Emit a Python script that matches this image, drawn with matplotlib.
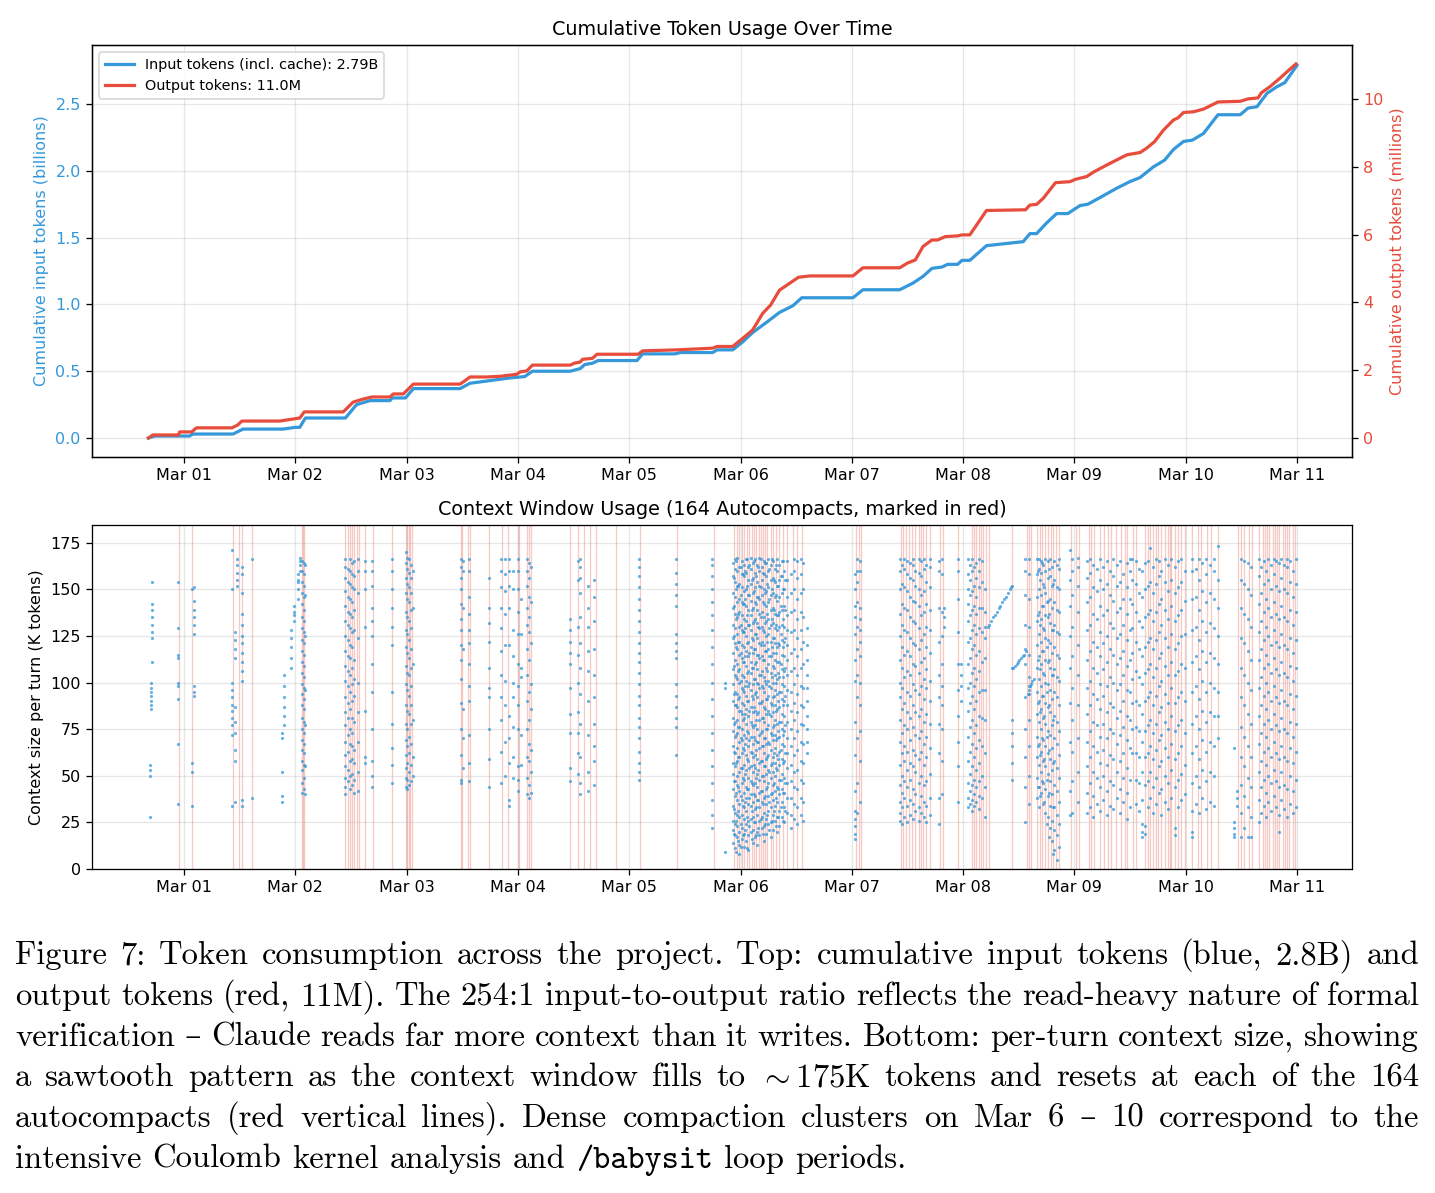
import numpy as np
import matplotlib
matplotlib.use("Agg")
import matplotlib.pyplot as plt
import matplotlib.dates as mdates
from datetime import datetime

plt.rcParams["mathtext.fontset"] = "cm"

BLUE = "#3498db"
RED = "#e74c3c"

# ---------------- top panel: cumulative tokens (time = days since Mar 01 00:00) ----------------
input_t = [-0.32, -0.26, 0.05, 0.08, 0.44, 0.53, 0.89, 1.00, 1.04, 1.09, 1.45, 1.55, 1.67, 1.85,
           1.87, 1.99, 2.06, 2.48, 2.57, 2.75, 2.93, 3.06, 3.13, 3.47, 3.56, 3.60, 3.67, 3.72,
           4.07, 4.12, 4.41, 4.46, 4.75, 4.79, 4.93, 5.02, 5.11, 5.24, 5.35, 5.47, 5.55, 6.01,
           6.10, 6.43, 6.55, 6.64, 6.72, 6.81, 6.86, 6.95, 6.99, 7.06, 7.21, 7.54, 7.60, 7.66,
           7.75, 7.84, 7.94, 8.05, 8.12, 8.23, 8.38, 8.50, 8.59, 8.71, 8.81, 8.89, 8.98, 9.06,
           9.16, 9.29, 9.49, 9.56, 9.64, 9.73, 9.82, 9.89, 10.00]
input_billions = [0.0, 0.015, 0.015, 0.03, 0.03, 0.067, 0.067, 0.08, 0.08, 0.15, 0.15, 0.25, 0.28,
                  0.28, 0.30, 0.30, 0.37, 0.37, 0.41, 0.43, 0.45, 0.46, 0.50, 0.50, 0.52, 0.55,
                  0.56, 0.58, 0.58, 0.63, 0.63, 0.64, 0.64, 0.66, 0.66, 0.72, 0.79, 0.87, 0.94,
                  0.99, 1.05, 1.05, 1.11, 1.11, 1.16, 1.21, 1.27, 1.28, 1.30, 1.30, 1.33, 1.33,
                  1.44, 1.47, 1.53, 1.53, 1.61, 1.68, 1.68, 1.74, 1.75, 1.80, 1.87, 1.92, 1.95,
                  2.03, 2.08, 2.16, 2.22, 2.23, 2.28, 2.42, 2.42, 2.47, 2.48, 2.58, 2.63, 2.66, 2.79]

output_t = [-0.32, -0.28, -0.05, -0.04, 0.07, 0.11, 0.43, 0.48, 0.52, 0.86, 0.98, 1.04, 1.08,
            1.43, 1.52, 1.61, 1.69, 1.85, 1.88, 1.97, 2.06, 2.48, 2.52, 2.57, 2.72, 2.84, 2.99,
            3.02, 3.08, 3.13, 3.47, 3.51, 3.56, 3.58, 3.67, 3.71, 4.08, 4.12, 4.43, 4.75, 4.79,
            4.93, 5.02, 5.11, 5.20, 5.27, 5.35, 5.44, 5.52, 5.62, 6.01, 6.10, 6.43, 6.50, 6.57,
            6.64, 6.72, 6.77, 6.84, 6.95, 6.99, 7.06, 7.21, 7.56, 7.60, 7.66, 7.72, 7.83, 7.96,
            8.01, 8.11, 8.17, 8.29, 8.47, 8.59, 8.65, 8.72, 8.80, 8.89, 8.93, 8.98, 9.07, 9.16,
            9.29, 9.49, 9.56, 9.65, 9.68, 9.76, 9.85, 9.91, 9.99]
output_millions = [0.0, 0.09, 0.09, 0.18, 0.18, 0.30, 0.30, 0.38, 0.50, 0.50, 0.56, 0.59, 0.77,
                   0.77, 1.06, 1.15, 1.21, 1.21, 1.30, 1.30, 1.59, 1.59, 1.68, 1.80, 1.80, 1.82,
                   1.88, 1.95, 1.98, 2.15, 2.15, 2.21, 2.24, 2.32, 2.35, 2.47, 2.47, 2.57, 2.60,
                   2.65, 2.70, 2.70, 2.94, 3.19, 3.68, 3.92, 4.36, 4.56, 4.74, 4.78, 4.78, 5.02,
                   5.02, 5.16, 5.25, 5.65, 5.84, 5.84, 5.94, 5.96, 5.99, 5.99, 6.71, 6.73, 6.87,
                   6.89, 7.07, 7.53, 7.56, 7.63, 7.71, 7.84, 8.05, 8.35, 8.42, 8.55, 8.74, 9.08,
                   9.38, 9.44, 9.60, 9.62, 9.70, 9.91, 9.93, 10.00, 10.03, 10.18, 10.37, 10.62,
                   10.80, 11.03]

# ---------------- autocompact times (days since Mar 01) ----------------
compact_feb28 = [-0.045]
compact_mar01 = [0.075, 0.44, 0.49, 0.52, 0.61]
compact_mar02 = [1.06, 1.07, 1.08, 1.45, 1.47, 1.49, 1.51, 1.53, 1.55, 1.57, 1.63, 1.70, 1.87, 1.99]
compact_mar03 = [2.00, 2.02, 2.03, 2.05, 2.49, 2.50, 2.55, 2.57, 2.74, 2.86, 2.91]
compact_mar04 = [3.00, 3.01, 3.08, 3.10, 3.12, 3.47, 3.54, 3.59, 3.65, 3.70, 3.88]
compact_mar05 = [4.10, 4.43, 4.76, 4.94, 4.97, 4.99]
compact_mar06 = [5.01, 5.03, 5.06, 5.08, 5.10, 5.12, 5.14, 5.17, 5.18, 5.20, 5.22, 5.24, 5.27,
                 5.29, 5.32, 5.35, 5.38, 5.42, 5.47, 5.51, 5.55]
compact_mar07 = [6.04, 6.06, 6.08, 6.44, 6.46, 6.49, 6.51, 6.54, 6.57, 6.60, 6.62, 6.64, 6.67,
                 6.70, 6.79, 6.82, 6.95]
compact_mar08 = [7.08, 7.10, 7.12, 7.14, 7.16, 7.18, 7.21, 7.23, 7.44, 7.57, 7.59, 7.61, 7.66,
                 7.69, 7.71, 7.74, 7.76, 7.79, 7.81, 7.83, 7.86, 7.97]
compact_mar09 = [8.01, 8.04, 8.13, 8.15, 8.18, 8.23, 8.27, 8.30, 8.33, 8.37, 8.42, 8.45, 8.47,
                 8.53, 8.55, 8.63, 8.66, 8.68, 8.71, 8.73, 8.75, 8.78, 8.81, 8.84, 8.86, 8.87,
                 8.90, 8.93, 8.96, 8.99]
compact_mar10 = [9.06, 9.11, 9.14, 9.19, 9.23, 9.29, 9.47, 9.50, 9.52, 9.57, 9.60, 9.66, 9.69,
                 9.71, 9.73, 9.75, 9.78, 9.80, 9.82, 9.84, 9.87, 9.89, 9.91, 9.93, 9.96, 9.98]

# ---------------- per-turn context size (K tokens), grouped as (time, [values]) ----------------
ctx_feb28 = [
    (-0.31, [28, 50, 53, 56]),
    (-0.30, [86, 88, 90, 93, 95, 97, 100]),
    (-0.29, [111, 124, 127, 131, 135, 139, 142, 154]),
    (-0.05, [35, 67, 91, 98, 100, 113, 115, 129, 154]),
]
ctx_mar01 = [
    (0.07, [34, 52, 57, 150]),
    (0.09, [93, 95, 98, 126, 131, 135, 139, 144, 151]),
    (0.43, [34, 72, 77, 81, 85, 88, 92, 96, 100, 150, 171]),
    (0.46, [36, 58, 64, 73, 79, 87, 113, 118, 123, 127]),
    (0.48, [152, 155, 159, 163, 166]),
    (0.52, [34, 37, 101, 106, 111, 116, 121, 125, 131, 137, 148, 158, 162]),
    (0.61, [38, 166]),
    (0.88, [36, 39, 52, 70, 73]),
    (0.90, [77, 82, 87, 92, 98, 104]),
    (0.96, [108, 113, 119, 124, 128]),
    (0.99, [133, 136, 138, 141]),
]
ctx_mar02 = [
    (1.02, [145, 150, 154, 155, 158]),
    (1.04, [160, 163, 165, 167]),
    (1.06, [41, 46, 53, 58, 64, 69, 75, 81, 88, 94, 99, 105, 111, 117, 123, 129, 135, 142, 148, 154, 160, 165]),
    (1.075, [43, 49, 56, 62, 67, 73, 79, 86, 91, 97, 103, 109, 115, 121, 127, 133, 139, 146, 152, 158, 164]),
    (1.09, [40, 55, 77, 96, 125, 147, 163]),
    (1.45, [40, 44, 49, 55, 61, 68, 77, 84, 92, 101, 109, 117, 125, 133, 141, 149, 156, 162, 166]),
    (1.47, [47, 53, 63, 72, 81, 89, 98, 106, 114, 123, 131, 138, 146, 154, 161]),
    (1.49, [43, 50, 58, 67, 75, 86, 95, 104, 113, 120, 129, 137, 145, 153, 160, 166]),
    (1.51, [45, 51, 59, 66, 73, 81, 90, 99, 108, 119, 127, 135, 143, 151, 158, 164]),
    (1.53, [41, 48, 57, 64, 79, 93, 102, 112, 128, 139, 150, 157, 165]),
    (1.56, [42, 52, 68, 84, 100, 124, 148, 160, 166]),
    (1.63, [57, 60, 85, 130, 150, 160, 165]),
    (1.69, [44, 50, 58, 75, 95, 110, 125, 133, 140, 152, 160, 165]),
    (1.87, [46, 56, 65, 78, 95, 120, 130, 140, 150, 160, 166]),
    (1.99, [44, 49, 54, 61, 69, 78, 88, 99, 109, 119, 128, 138, 148, 156, 164, 170]),
]
ctx_mar03 = [
    (2.005, [43, 48, 57, 66, 75, 85, 96, 105, 116, 126, 135, 145, 153, 161, 167]),
    (2.02, [45, 52, 62, 71, 83, 93, 104, 113, 123, 133, 143, 151, 159, 166]),
    (2.04, [47, 56, 67, 78, 88, 98, 108, 118, 129, 139, 148, 156, 163]),
    (2.055, [50, 60, 80, 110, 140, 160]),
    (2.49, [46, 48, 61, 75, 89, 102, 112, 120, 128, 134, 142, 150, 156, 162, 166]),
    (2.51, [54, 70, 86, 118, 140, 160, 165]),
    (2.56, [47, 57, 72, 90, 98, 110, 121, 128, 137, 146, 160, 166]),
    (2.74, [44, 59, 75, 92, 97, 108, 122, 132, 140, 156]),
    (2.85, [46, 63, 80, 92, 104, 117, 129, 140, 151, 160, 166]),
    (2.88, [50, 68, 88, 101, 120, 137, 149, 158, 166]),
    (2.92, [34, 37, 57, 70, 82, 120, 140, 152, 160, 166]),
    (2.96, [49, 60, 76, 92, 100, 114, 128, 150, 160]),
]
ctx_mar04 = [
    (3.00, [42, 48, 55, 75, 88, 98, 110, 126, 138, 150, 160, 166]),
    (3.03, [56, 72, 103, 108, 126, 145]),
    (3.08, [40, 49, 60, 75, 90, 104, 118, 131, 140, 152, 160, 166]),
    (3.10, [38, 45, 58, 67, 80, 95, 112, 127, 135, 146, 156, 164]),
    (3.12, [41, 52, 64, 86, 99, 121, 143, 162]),
    (3.47, [47, 54, 73, 83, 97, 110, 116, 122, 128, 134]),
    (3.54, [51, 62, 73, 84, 100, 115, 130, 155, 165]),
    (3.56, [40, 46, 60, 78, 94, 108, 121, 135, 148, 156, 162, 166]),
    (3.63, [42, 52, 72, 90, 106, 117, 130, 140, 152]),
    (3.68, [45, 58, 66, 78, 92, 104, 118, 133, 146, 155]),
]
ctx_mar05 = [
    (4.09, [48, 52, 57, 63, 70, 76, 81, 88, 93, 99, 105, 111, 116, 121, 127, 133, 139, 145, 151, 157, 162, 166]),
    (4.42, [61, 76, 81, 87, 93, 99, 113, 117, 121, 126, 141, 147, 153, 159, 166]),
    (4.745, [22, 29, 37, 46, 55, 64, 73, 82, 91, 100, 110, 119, 128, 136, 143, 150, 157, 163, 166]),
    (4.86, [9, 97, 100]),
    (4.93, [14, 21, 26, 34, 43, 51, 57, 66, 74, 81, 90, 99, 107, 116, 124, 131, 140, 148, 157, 164]),
    (4.94, [19, 32, 47, 63, 78, 94, 109, 125, 141, 156]),
    (4.95, [11, 18, 24, 30, 39, 47, 55, 62, 71, 79, 88, 95, 104, 112, 121, 129, 137, 146, 154, 161, 166]),
    (4.96, [9, 26, 41, 57, 72, 88, 103, 119, 134, 150, 165]),
    (4.97, [17, 23, 29, 37, 45, 50, 58, 65, 73, 80, 87, 94, 102, 110, 118, 126, 135, 143, 152, 160, 167]),
    (4.98, [15, 31, 44, 60, 76, 91, 106, 122, 137, 152]),
    (4.99, [8, 13, 20, 28, 35, 42, 52, 60, 68, 76, 85, 92, 100, 107, 115, 122, 130, 138, 145, 153, 162]),
]
ctx_mar06 = [
    (5.00, [12, 24, 39, 54, 70, 85, 101, 116, 131, 147, 162]),
    (5.01, [16, 22, 29, 37, 46, 54, 62, 69, 75, 83, 89, 97, 104, 113, 120, 128, 136, 143, 151, 158, 165]),
    (5.02, [18, 34, 49, 65, 80, 96, 111, 127, 142, 158]),
    (5.03, [12, 19, 27, 33, 41, 48, 56, 64, 72, 81, 88, 95, 103, 111, 119, 127, 134, 142, 149, 157, 163]),
    (5.04, [21, 36, 51, 67, 83, 98, 114, 129, 145, 160]),
    (5.05, [15, 24, 31, 38, 44, 53, 61, 70, 78, 86, 93, 101, 109, 117, 125, 133, 141, 150, 159, 166]),
    (5.06, [11, 28, 43, 59, 74, 90, 105, 121, 136, 152, 166]),
    (5.07, [10, 18, 26, 35, 43, 49, 58, 66, 73, 82, 90, 98, 106, 114, 122, 131, 139, 147, 155, 162]),
    (5.08, [23, 38, 54, 69, 85, 100, 116, 131, 147, 163]),
    (5.09, [20, 27, 34, 40, 47, 55, 63, 71, 79, 87, 96, 105, 111, 119, 128, 136, 144, 153, 161, 167]),
    (5.10, [16, 31, 46, 62, 77, 93, 108, 124, 139, 155]),
    (5.11, [14, 21, 28, 36, 45, 52, 60, 67, 76, 84, 91, 99, 108, 116, 123, 132, 140, 148, 156, 164]),
    (5.12, [25, 40, 56, 71, 87, 102, 118, 133, 149, 165]),
    (5.13, [17, 25, 32, 39, 46, 54, 61, 69, 77, 85, 94, 102, 110, 118, 126, 134, 143, 151, 159, 166]),
    (5.14, [18, 33, 49, 64, 80, 95, 111, 126, 142, 157]),
    (5.15, [13, 20, 29, 37, 44, 51, 59, 68, 75, 83, 92, 100, 107, 115, 124, 132, 139, 146, 154, 163]),
    (5.16, [22, 37, 53, 68, 84, 99, 115, 130, 146, 162]),
    (5.17, [18, 26, 33, 41, 48, 57, 65, 72, 80, 89, 97, 104, 113, 121, 129, 137, 145, 152, 160, 167]),
    (5.18, [27, 42, 58, 73, 89, 104, 120, 135, 151, 166]),
    (5.19, [22, 28, 36, 42, 50, 58, 66, 74, 81, 90, 98, 106, 114, 122, 130, 138, 147, 155, 162]),
    (5.20, [19, 35, 50, 66, 81, 97, 112, 128, 143, 159]),
    (5.21, [15, 23, 30, 38, 47, 55, 62, 70, 79, 87, 95, 103, 112, 120, 127, 135, 142, 150, 158, 165]),
    (5.22, [24, 39, 55, 70, 86, 101, 117, 132, 148, 164]),
    (5.23, [19, 27, 35, 43, 51, 59, 67, 75, 83, 91, 99, 108, 117, 125, 133, 141, 149, 157, 164]),
    (5.24, [29, 44, 60, 75, 91, 106, 122, 137, 153]),
    (5.25, [24, 31, 39, 46, 53, 61, 68, 77, 85, 93, 101, 110, 118, 126, 134, 143, 151, 160, 166]),
    (5.26, [21, 36, 52, 67, 83, 98, 114, 129, 145, 161]),
    (5.27, [17, 25, 33, 40, 49, 56, 64, 73, 82, 89, 97, 105, 114, 122, 131, 139, 147, 155, 163]),
    (5.28, [26, 41, 57, 72, 88, 103, 119, 134, 150, 166]),
    (5.29, [21, 29, 37, 45, 52, 60, 69, 76, 84, 92, 100, 109, 116, 124, 132, 140, 148, 156, 165]),
    (5.30, [31, 46, 62, 77, 93, 108, 124, 139, 155]),
    (5.31, [26, 34, 42, 50, 57, 65, 72, 80, 88, 96, 104, 112, 121, 129, 137, 146, 154, 161]),
    (5.32, [23, 38, 54, 69, 85, 100, 116, 131, 147, 163]),
    (5.33, [20, 28, 36, 44, 53, 61, 70, 78, 86, 94, 102, 111, 119, 128, 136, 144, 152, 160, 166]),
    (5.34, [28, 43, 59, 74, 90, 105, 121, 136, 152]),
    (5.35, [23, 31, 40, 48, 56, 63, 71, 79, 87, 95, 103, 111, 120, 130, 138, 146, 155, 163]),
    (5.36, [33, 48, 64, 79, 95, 110, 126, 141, 157]),
    (5.37, [28, 36, 43, 51, 59, 67, 75, 83, 91, 99, 107, 115, 123, 131, 139, 148, 157, 165]),
    (5.38, [26, 41, 57, 72, 88, 103, 119, 134, 150, 165]),
    (5.39, [25, 33, 41, 49, 58, 66, 74, 82, 90, 98, 106, 114, 122, 130, 141, 150, 160]),
    (5.40, [31, 46, 62, 77, 93, 108, 124, 139, 155]),
    (5.42, [30, 38, 46, 54, 62, 70, 79, 88, 96, 104, 112, 120, 128, 136, 146, 155, 165]),
    (5.45, [22, 29, 38, 47, 56, 66, 75, 85, 95, 106, 116, 127, 138, 148, 158]),
    (5.48, [27, 35, 44, 52, 61, 70, 80, 89, 99, 108, 118, 128, 139, 150, 160, 166]),
    (5.51, [24, 33, 43, 53, 64, 74, 84, 94, 104, 114, 124, 134, 145, 156, 165]),
    (5.54, [29, 38, 48, 58, 68, 78, 88, 98, 108, 118, 128, 138, 148, 158, 166]),
    (5.56, [26, 36, 46, 57, 67, 77, 87, 97, 110, 122, 135, 150, 164]),
    (5.60, [62, 68, 75, 82, 90, 97, 104, 112, 120, 129]),
]
ctx_mar07 = [
    (6.03, [16, 19, 23, 27, 31, 42, 61, 79, 101, 112, 126, 135, 141, 150, 158]),
    (6.05, [30, 46, 70, 92, 104, 118, 130, 143, 154, 160, 166]),
    (6.07, [36, 58, 74, 88, 100, 114, 122, 128, 134, 140, 160, 165]),
    (6.43, [26, 30, 36, 45, 56, 68, 80, 92, 100, 112, 125, 137, 150, 160, 166]),
    (6.45, [24, 33, 41, 50, 62, 73, 86, 97, 108, 119, 131, 142, 153, 163]),
    (6.47, [28, 38, 47, 58, 66, 77, 89, 103, 115, 128, 140, 151, 161, 166]),
    (6.50, [25, 34, 44, 53, 63, 75, 84, 95, 106, 117, 127, 139, 149, 158, 165]),
    (6.52, [29, 37, 48, 57, 69, 81, 93, 104, 114, 124, 135, 146, 156, 164]),
    (6.55, [27, 35, 43, 55, 64, 76, 88, 99, 110, 121, 133, 144, 155, 163, 166]),
    (6.57, [31, 40, 52, 61, 72, 84, 96, 109, 120, 132, 143, 152, 160]),
    (6.60, [26, 33, 46, 59, 70, 82, 94, 105, 118, 129, 141, 150, 159, 166]),
    (6.62, [30, 39, 50, 63, 74, 86, 98, 111, 123, 136, 147, 157, 165]),
    (6.65, [28, 36, 45, 56, 67, 79, 91, 102, 113, 126, 138, 149, 161, 166]),
    (6.67, [25, 34, 47, 60, 71, 83, 97, 107, 119, 130, 142, 154, 163]),
    (6.70, [29, 38, 51, 65, 78, 90, 101, 116, 128, 139, 151, 162, 166]),
    (6.78, [24, 38, 62, 78, 92, 104, 122, 140, 160, 165]),
    (6.81, [40, 58, 75, 88, 98, 110, 125, 138, 158, 166]),
    (6.83, [130, 135, 140]),
    (6.95, [36, 55, 68, 82, 96, 110, 127, 145, 160, 166]),
    (6.98, [90, 98, 104, 110]),
]
ctx_mar08 = [
    (7.04, [33, 38, 46, 58, 71, 85, 97, 110, 122, 133, 142, 150, 158, 166]),
    (7.06, [35, 42, 51, 63, 76, 89, 100, 113, 124, 136, 147, 155, 163]),
    (7.08, [31, 37, 45, 55, 67, 80, 93, 105, 118, 128, 139, 149, 160, 166]),
    (7.10, [34, 40, 48, 60, 73, 86, 98, 108, 120, 131, 141, 152, 162]),
    (7.12, [36, 44, 53, 65, 77, 90, 102, 115, 126, 137, 146, 156, 164]),
    (7.14, [32, 39, 47, 57, 69, 82, 95, 106, 117, 129, 140, 151, 160, 166]),
    (7.17, [38, 50, 66, 81, 96, 111, 127, 140, 154, 165]),
    (7.20, [28, 44, 62, 80, 96, 113, 124, 130, 138, 150]),
    (7.44, [48, 57, 66, 73, 80, 108]),
    (7.56, [25, 44, 60, 75, 92, 110, 118, 131, 147, 160, 166]),
    (7.59, [35, 50, 66, 80, 94, 98, 103, 115, 130, 145, 158, 166]),
    (7.66, [38, 49, 60, 71, 83, 95, 108, 120, 133, 146, 158, 166]),
    (7.67, [44, 66, 89, 112, 136, 160]),
    (7.68, [33, 44, 56, 67, 79, 90, 102, 114, 126, 138, 150, 161, 166]),
    (7.69, [39, 61, 84, 107, 131, 155]),
    (7.70, [41, 52, 63, 75, 86, 98, 110, 122, 134, 147, 159, 165]),
    (7.71, [47, 70, 93, 117, 141, 164]),
    (7.72, [35, 46, 58, 69, 81, 93, 105, 117, 129, 141, 153, 163]),
    (7.73, [36, 59, 82, 104, 128, 151]),
    (7.74, [30, 43, 55, 66, 78, 89, 100, 112, 124, 136, 148, 160, 166]),
    (7.75, [24, 48, 71, 95, 119, 143]),
    (7.76, [28, 39, 51, 62, 74, 87, 99, 111, 123, 135, 144, 156, 165]),
    (7.77, [17, 41, 64, 88, 112, 137, 161]),
    (7.78, [22, 34, 47, 59, 72, 84, 96, 108, 121, 132, 145, 157, 166]),
    (7.80, [15, 26, 40, 53, 65, 77, 91, 104, 116, 128, 140, 152, 162]),
    (7.81, [8, 33, 57, 80, 104, 128, 153]),
    (7.82, [10, 21, 33, 45, 58, 70, 82, 95, 107, 119, 131, 143, 155, 165]),
    (7.84, [5, 18, 29, 42, 54, 67, 79, 92, 103, 115, 127, 139, 151, 163]),
    (7.86, [12, 24, 36, 49, 61, 74, 88, 101, 113, 126, 138, 150, 161, 166]),
    (7.96, [29, 42, 68, 89, 108, 125, 141, 155, 171]),
    (7.98, [30, 47, 63, 80, 97, 114, 130, 147, 160, 166]),
]
# continuous runs visible as thin lines on Mar 08
ramp_t = [7.22, 7.235, 7.25, 7.27, 7.285, 7.30, 7.32, 7.335, 7.35, 7.37, 7.385, 7.40, 7.42, 7.43, 7.44,
          7.45, 7.465, 7.48, 7.49, 7.505, 7.52, 7.535, 7.55, 7.565,
          7.58, 7.59, 7.60, 7.61, 7.62, 7.635]
ramp_k = [130, 131, 133, 135, 136, 138, 140, 141, 143, 145, 146, 148, 150, 151, 152,
          108, 109, 110, 111, 112, 113, 114, 115, 117,
          94, 96, 98, 99, 101, 102]
ctx_mar09 = [
    (8.03, [36, 52, 70, 88, 104, 120, 138, 152, 162, 167]),
    (8.11, [30, 41, 55, 68, 83, 97, 112, 128, 143, 156, 165]),
    (8.14, [33, 46, 60, 74, 88, 101, 117, 131, 146, 159, 166]),
    (8.17, [28, 39, 52, 66, 79, 94, 108, 122, 137, 151, 163]),
    (8.20, [35, 49, 63, 77, 91, 105, 119, 134, 149, 161]),
    (8.23, [31, 44, 57, 71, 86, 99, 114, 127, 141, 155, 166]),
    (8.26, [37, 50, 64, 78, 93, 107, 121, 136, 150, 162]),
    (8.29, [29, 42, 56, 70, 84, 98, 111, 125, 139, 153, 165]),
    (8.32, [34, 47, 61, 75, 89, 103, 118, 132, 147, 160]),
    (8.35, [32, 45, 59, 73, 87, 100, 115, 129, 144, 157, 166]),
    (8.38, [38, 52, 67, 81, 96, 110, 124, 138, 152, 163]),
    (8.41, [30, 43, 58, 72, 85, 99, 113, 126, 140, 154, 165]),
    (8.44, [36, 49, 62, 76, 90, 104, 117, 131, 145, 158]),
    (8.47, [27, 41, 54, 69, 82, 96, 109, 123, 137, 151, 164]),
    (8.50, [33, 48, 65, 80, 95, 112, 128, 145, 160, 166]),
    (8.52, [62, 75, 89, 102, 116, 129, 142, 155, 166]),
    (8.55, [35, 48, 62, 76, 90, 106, 122, 138, 153, 165]),
    (8.58, [31, 46, 60, 74, 88, 103, 118, 133, 148, 161]),
    (8.61, [17, 20, 24, 37, 52, 68, 83, 99, 114, 130, 146, 160]),
    (8.63, [19, 23, 45, 60, 74, 90, 105, 119, 135, 150, 164]),
    (8.66, [33, 47, 62, 77, 92, 107, 122, 137, 152, 165]),
    (8.68, [38, 52, 66, 80, 95, 110, 124, 139, 154, 172]),
    (8.71, [30, 44, 59, 73, 88, 103, 118, 133, 148, 162]),
    (8.73, [35, 49, 64, 78, 93, 108, 123, 138, 153, 166]),
    (8.76, [41, 55, 69, 84, 98, 113, 127, 142, 157, 165]),
    (8.78, [29, 43, 58, 72, 87, 101, 116, 131, 145, 160]),
    (8.81, [36, 50, 65, 79, 94, 109, 124, 139, 154, 166]),
    (8.84, [32, 46, 60, 75, 89, 104, 119, 134, 149, 163]),
    (8.87, [38, 53, 67, 82, 97, 111, 126, 141, 155, 166]),
    (8.90, [18, 22, 44, 59, 74, 89, 104, 118, 133, 148, 162]),
    (8.93, [33, 48, 62, 77, 92, 106, 121, 136, 151, 165]),
    (8.96, [37, 51, 66, 80, 95, 110, 125, 139, 154, 166]),
    (8.99, [40, 56, 73, 90, 108, 126, 144, 160]),
]
ctx_mar10 = [
    (9.06, [17, 20, 31, 46, 62, 78, 95, 111, 128, 145, 160, 166]),
    (9.09, [35, 50, 66, 82, 98, 114, 130, 146, 161]),
    (9.12, [30, 44, 59, 75, 91, 107, 123, 139, 155, 166]),
    (9.15, [38, 53, 69, 85, 101, 117, 133, 149, 164]),
    (9.18, [32, 47, 63, 79, 95, 111, 127, 143, 158, 166]),
    (9.22, [36, 52, 68, 84, 100, 116, 132, 148, 163]),
    (9.25, [34, 50, 66, 82, 97, 113, 129, 145, 160, 166]),
    (9.29, [70, 82, 95, 110, 125, 140, 155, 173]),
    (9.43, [17, 19, 22, 25, 65]),
    (9.46, [34, 38, 42]),
    (9.50, [17, 30, 45, 60, 76, 92, 108, 124, 140, 155, 166]),
    (9.52, [22, 39, 55, 71, 88, 104, 121, 137, 153, 165]),
    (9.56, [17, 33, 49, 66, 83, 100, 117, 134, 150, 164]),
    (9.59, [17, 28, 44, 60, 78, 96, 112, 130, 147, 162]),
    (9.66, [25, 37, 52, 67, 82, 97, 112, 127, 142, 157, 166]),
    (9.68, [30, 44, 58, 73, 88, 103, 118, 133, 148, 162]),
    (9.70, [34, 48, 63, 78, 93, 108, 123, 138, 153, 165]),
    (9.72, [28, 41, 56, 71, 86, 100, 115, 130, 145, 160]),
    (9.74, [36, 50, 65, 80, 95, 110, 125, 140, 155, 166]),
    (9.77, [31, 46, 60, 75, 90, 105, 120, 135, 150, 163]),
    (9.79, [39, 53, 68, 83, 98, 113, 128, 143, 158, 166]),
    (9.81, [33, 47, 62, 77, 92, 107, 122, 137, 152, 165]),
    (9.84, [20, 29, 44, 59, 74, 89, 104, 119, 134, 149, 164]),
    (9.86, [37, 52, 66, 81, 96, 111, 126, 141, 156, 166]),
    (9.88, [32, 45, 60, 75, 90, 105, 120, 135, 150, 163]),
    (9.91, [28, 43, 58, 73, 88, 103, 118, 133, 148, 162, 166]),
    (9.94, [35, 50, 65, 79, 94, 109, 124, 139, 154, 165]),
    (9.96, [30, 42, 57, 71, 86, 101, 116, 131, 146, 160]),
    (9.99, [33, 48, 63, 78, 93, 108, 123, 138, 153, 166]),
]

caption_lines = [
    "Figure 7: Token consumption across the project. Top: cumulative input tokens (blue, 2.8B) and",
    "output tokens (red, 11M). The 254:1 input-to-output ratio reflects the read-heavy nature of formal",
    "verification \u2013 Claude reads far more context than it writes. Bottom: per-turn context size, showing",
    "a sawtooth pattern as the context window fills to ${\\sim}$175K tokens and resets at each of the 164",
    "autocompacts (red vertical lines). Dense compaction clusters on Mar 6 \u2013 10 correspond to the",
    "intensive Coulomb kernel analysis and /babysit loop periods.",
]

# ---------------- figure ----------------
DPI = 115
W, H = 1435, 1193
fig = plt.figure(figsize=(W / DPI, H / DPI), dpi=DPI)
base = mdates.date2num(datetime(2026, 3, 1))


def box(l, t, r, b):
    return [l / W, 1 - b / H, (r - l) / W, (b - t) / H]


xlo, xhi = base - 0.827, base + 10.494

# top panel
ax1 = fig.add_axes(box(92, 45, 1352, 457))
l1, = ax1.plot(base + np.array(input_t), input_billions, color=BLUE, lw=2,
               label=f"Input tokens (incl. cache): {input_billions[-1]:.2f}B")
ax1.set_ylabel("Cumulative input tokens (billions)", color=BLUE)
ax1.tick_params(axis="y", labelcolor=BLUE)
ax1.grid(True, alpha=0.3)
ax1.set_ylim(-0.142, 2.942)
ax2 = ax1.twinx()
l2, = ax2.plot(base + np.array(output_t), output_millions, color=RED, lw=2,
               label=f"Output tokens: {output_millions[-1]:.1f}M")
ax2.set_ylabel("Cumulative output tokens (millions)", color=RED)
ax2.tick_params(axis="y", labelcolor=RED)
ax2.set_ylim(-0.56, 11.59)
ax1.legend([l1, l2], [l1.get_label(), l2.get_label()], loc="upper left", fontsize=9)
ax1.set_title("Cumulative Token Usage Over Time")
ax1.set_xlim(xlo, xhi)

# bottom panel
ax3 = fig.add_axes(box(92, 525, 1352, 869))
compacts = (compact_feb28 + compact_mar01 + compact_mar02 + compact_mar03 + compact_mar04 +
            compact_mar05 + compact_mar06 + compact_mar07 + compact_mar08 + compact_mar09 +
            compact_mar10)
for t in compacts:
    ax3.axvline(base + t, color=RED, alpha=0.3, lw=0.8, zorder=1)

ctx_t, ctx_k = [], []
for group in (ctx_feb28, ctx_mar01, ctx_mar02, ctx_mar03, ctx_mar04, ctx_mar05, ctx_mar06,
              ctx_mar07, ctx_mar08, ctx_mar09, ctx_mar10):
    for t, vals in group:
        ctx_t += [t] * len(vals)
        ctx_k += vals
ctx_t += ramp_t
ctx_k += ramp_k
ax3.scatter(base + np.array(ctx_t), ctx_k, s=4, color=BLUE, alpha=0.75, linewidths=0, zorder=2)
ax3.set_ylabel("Context size per turn (K tokens)")
ax3.set_title(f"Context Window Usage ({len(compacts)} Autocompacts, marked in red)")
ax3.grid(True, alpha=0.3)
ax3.set_ylim(0, 184.5)
ax3.set_xlim(xlo, xhi)

for ax in (ax1, ax3):
    ax.xaxis.set_major_locator(mdates.DayLocator())
    ax.xaxis.set_major_formatter(mdates.DateFormatter("%b %d"))

# ---------------- caption (justified) ----------------
CAP_PT = 32.7 * 72 / DPI
rm = dict(family=["cmr10", "DejaVu Serif"], size=CAP_PT)
tt = dict(family=["cmtt10", "DejaVu Sans Mono"], size=CAP_PT)
renderer = fig.canvas.get_renderer()


def text_width(s, kw):
    t = fig.text(0, 0, s, **kw)
    w = t.get_window_extent(renderer).width
    t.remove()
    return w


space_w = text_width("a a", rm) - text_width("aa", rm)
x_left, x_right = 15, 1419
for i, line in enumerate(caption_lines):
    words = line.split()
    kws = [tt if w.startswith("/") else rm for w in words]
    widths = [text_width(w, k) for w, k in zip(words, kws)]
    if i < len(caption_lines) - 1:
        gap = (x_right - x_left - sum(widths)) / (len(words) - 1)
    else:
        gap = space_w
    x = x_left
    y = 964.5 + i * 40.6
    for w, k, wd in zip(words, kws, widths):
        fig.text(x / W, 1 - y / H, w, va="baseline", ha="left", **k)
        x += wd + gap

fig.savefig("out.png", dpi=DPI)
